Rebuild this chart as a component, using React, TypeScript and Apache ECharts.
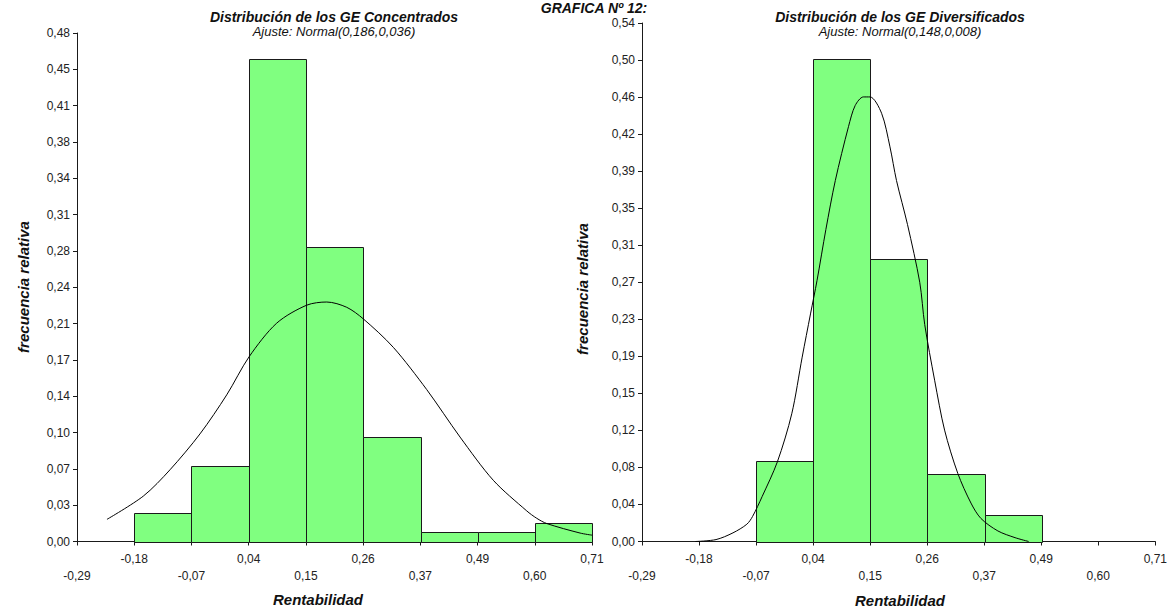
import React, { useEffect, useRef } from "react";
import * as echarts from "echarts";

const FONT = "'Liberation Sans', Arial, Helvetica, sans-serif";

// x axis (shared by both panels)
const X_TICK_LABELS = ["-0,29", "-0,18", "-0,07", "0,04", "0,15", "0,26", "0,37", "0,49", "0,60", "0,71"];
const X_MIN = -0.2922;
const X_STEP = 0.1111;

// left panel: GE Concentrados
const LEFT_TITLE = "Distribución de los GE Concentrados";
const LEFT_SUBTITLE = "Ajuste: Normal(0,186,0,036)";
const LEFT_Y_MAX = 0.482;
const LEFT_BIN_EDGES = [-0.181, -0.07, 0.041, 0.152, 0.263, 0.375, 0.486, 0.597, 0.708];
const LEFT_FREQ = [0.027, 0.072, 0.457, 0.279, 0.099, 0.009, 0.009, 0.018];
const LEFT_CURVE_X = [-0.234, -0.1635, -0.1116, -0.0534, -0.0015, 0.0418, 0.0956, 0.1538, 0.1927, 0.2315, 0.2637, 0.322, 0.3868, 0.4515, 0.5161, 0.581, 0.6004, 0.62, 0.6846, 0.708];
const LEFT_CURVE_Y = [0.021, 0.043, 0.068, 0.102, 0.139, 0.175, 0.207, 0.224, 0.227, 0.222, 0.211, 0.184, 0.144, 0.099, 0.058, 0.029, 0.022, 0.017, 0.008, 0.006];

// right panel: GE Diversificados
const RIGHT_TITLE = "Distribución de los GE Diversificados";
const RIGHT_SUBTITLE = "Ajuste: Normal(0,148,0,008)";
const RIGHT_Y_MAX = 0.54;
const RIGHT_BIN_EDGES = [-0.07, 0.041, 0.152, 0.263, 0.375, 0.486];
const RIGHT_FREQ = [0.084, 0.503, 0.294, 0.07, 0.028];
const RIGHT_CURVE_X = [-0.188, -0.148, -0.115, -0.088, -0.0769, -0.058, -0.0285, -0.0005, 0.0198, 0.036, 0.0488, 0.066, 0.0844, 0.11, 0.123, 0.139, 0.152, 0.1745, 0.1908, 0.2035, 0.225, 0.2488, 0.2585, 0.2778, 0.2972, 0.3229, 0.3486, 0.368, 0.401, 0.4345, 0.461];
const RIGHT_CURVE_Y = [0.0, 0.002, 0.009, 0.018, 0.026, 0.047, 0.083, 0.133, 0.192, 0.237, 0.272, 0.325, 0.376, 0.432, 0.454, 0.463, 0.463, 0.446, 0.411, 0.376, 0.33, 0.27, 0.226, 0.168, 0.116, 0.071, 0.04, 0.024, 0.011, 0.004, 0.0];

const MAIN_TITLE = "GRAFICA Nº 12:";
const Y_NAME = "frecuencia relativa";
const X_NAME = "Rentabilidad";

const X_TICKS = X_TICK_LABELS.map((_, i) => X_MIN + i * X_STEP);

function fmtX(value: number) {
  const i = Math.round((value - X_MIN) / X_STEP);
  const label = X_TICK_LABELS[i] ?? "";
  return i % 2 === 1 ? label : "\n" + label;
}

function fmtY(value: number) {
  return value.toFixed(2).replace(".", ",");
}

const AXIS_COLOR = "#1a1a1a";
const TEXT_COLOR = "#222";

function xAxis(gridIndex: number) {
  return {
    type: "value",
    gridIndex,
    min: X_MIN,
    max: X_MIN + 9 * X_STEP,
    axisLine: { show: true, onZero: false, lineStyle: { color: AXIS_COLOR, width: 1 } },
    axisTick: { show: true, length: 4, customValues: X_TICKS, lineStyle: { color: AXIS_COLOR } },
    axisLabel: {
      customValues: X_TICKS,
      formatter: fmtX,
      color: TEXT_COLOR,
      fontSize: 12,
      fontFamily: FONT,
      margin: 9,
      lineHeight: 17,
      showMinLabel: true,
      showMaxLabel: true,
    },
    splitLine: { show: false },
  };
}

function yAxis(gridIndex: number, max: number) {
  return {
    type: "value",
    gridIndex,
    min: 0,
    max,
    interval: max / 14,
    axisLine: { show: true, onZero: false, lineStyle: { color: AXIS_COLOR, width: 1 } },
    axisTick: { show: true, length: 4, lineStyle: { color: AXIS_COLOR } },
    axisLabel: { formatter: fmtY, color: TEXT_COLOR, fontSize: 12, fontFamily: FONT, margin: 7 },
    splitLine: { show: false },
  };
}

function barSeries(idx: number, edges: number[], freqs: number[]) {
  const data = freqs.map((f, i) => [edges[i], edges[i + 1], f]);
  return {
    type: "custom",
    xAxisIndex: idx,
    yAxisIndex: idx,
    encode: { x: [0, 1], y: 2 },
    data,
    z: 2,
    renderItem: (_params: any, api: any) => {
      const p0 = api.coord([api.value(0), api.value(2)]);
      const p1 = api.coord([api.value(1), 0]);
      const x0 = Math.round(p0[0]) + 0.5;
      const x1 = Math.round(p1[0]) + 0.5;
      const y0 = Math.round(p0[1]) + 0.5;
      const y1 = Math.round(p1[1]) + 0.5;
      return {
        type: "rect",
        shape: { x: x0, y: y0, width: x1 - x0, height: y1 - y0 },
        style: { fill: "#80ff80", stroke: "#1a1a1a", lineWidth: 1 },
      };
    },
  };
}

function curveSeries(idx: number, xs: number[], ys: number[]) {
  return {
    type: "line",
    xAxisIndex: idx,
    yAxisIndex: idx,
    data: xs.map((x, i) => [x, ys[i]]),
    showSymbol: false,
    symbol: "none",
    smooth: 0.3,
    lineStyle: { color: "#000", width: 1 },
    z: 3,
  };
}

function text(x: number, y: number, t: string, size: number, bold: boolean, rotation = 0) {
  return {
    type: "text",
    x,
    y,
    rotation,
    style: {
      text: t,
      fill: "#111",
      fontFamily: FONT,
      fontSize: size,
      fontStyle: "italic",
      fontWeight: bold ? "bold" : "normal",
      align: "center",
      verticalAlign: "middle",
      textAlign: "center",
      textVerticalAlign: "middle",
    },
  };
}

export default function App() {
  const ref = useRef<HTMLDivElement>(null);
  useEffect(() => {
    if (!ref.current) return;
    const chart = echarts.init(ref.current, undefined, { renderer: "svg" });
    chart.setOption({
      animation: false,
      backgroundColor: "#fff",
      textStyle: { fontFamily: FONT },
      grid: [
        { left: 77, top: 33, width: 515, height: 508.5 },
        { left: 642, top: 23, width: 517, height: 518.5 },
      ],
      xAxis: [xAxis(0), xAxis(1)],
      yAxis: [yAxis(0, LEFT_Y_MAX), yAxis(1, RIGHT_Y_MAX)],
      series: [
        barSeries(0, LEFT_BIN_EDGES, LEFT_FREQ),
        curveSeries(0, LEFT_CURVE_X, LEFT_CURVE_Y),
        barSeries(1, RIGHT_BIN_EDGES, RIGHT_FREQ),
        curveSeries(1, RIGHT_CURVE_X, RIGHT_CURVE_Y),
      ],
      graphic: [
        text(594, 8, MAIN_TITLE, 14, true),
        text(334, 17, LEFT_TITLE, 14, true),
        text(334, 31, LEFT_SUBTITLE, 13, false),
        text(900, 17, RIGHT_TITLE, 14, true),
        text(900, 31, RIGHT_SUBTITLE, 13, false),
        text(23, 287, Y_NAME, 15, true, Math.PI / 2),
        text(582, 289, Y_NAME, 15, true, Math.PI / 2),
        text(318, 599, X_NAME, 15, true),
        text(900, 600, X_NAME, 15, true),
      ],
    });
    return () => chart.dispose();
  }, []);
  return <div ref={ref} style={{ position: "fixed", left: 0, top: 0, width: 1170, height: 608 }} />;
}
